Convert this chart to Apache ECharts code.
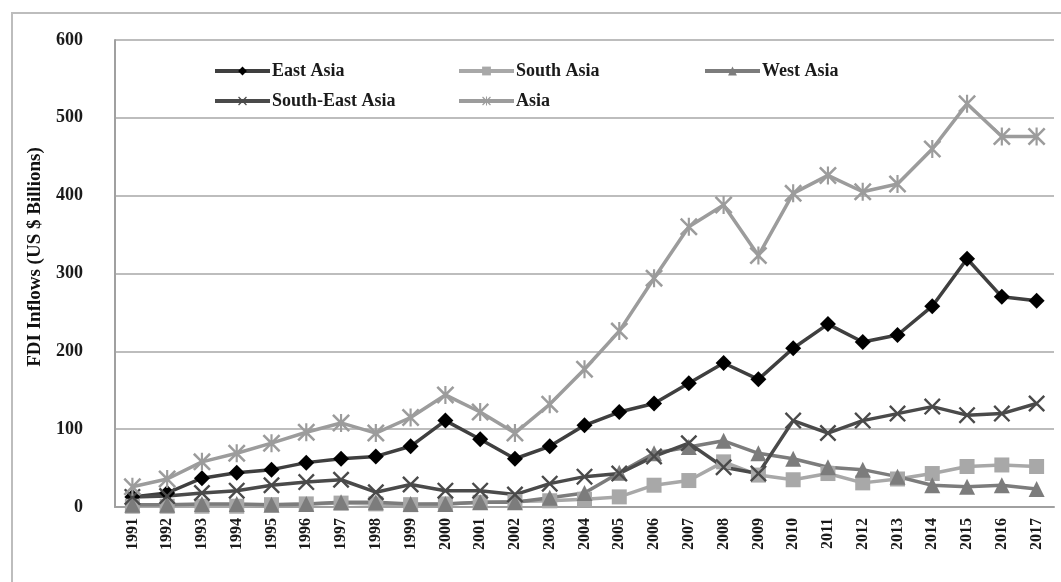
<!DOCTYPE html>
<html>
<head>
<meta charset="utf-8">
<script src="https://cdn.jsdelivr.net/npm/echarts@6/dist/echarts.min.js"></script>
<style>
html, body { margin: 0; padding: 0; background: #fff; }
#box { width: 1061px; height: 582px; }
</style>
</head>
<body>
<div id="box"></div>
<script>
var years = ['1991', '1992', '1993', '1994', '1995', '1996', '1997', '1998', '1999', '2000',
  '2001', '2002', '2003', '2004', '2005', '2006', '2007', '2008', '2009', '2010',
  '2011', '2012', '2013', '2014', '2015', '2016', '2017'];
var eastAsia = [13, 18, 37, 44, 48, 57, 62, 65, 78, 111, 87, 62, 78, 105, 122, 133, 159, 185, 164, 204, 235, 212, 221, 258, 319, 270, 265];
var southAsia = [1, 1, 1, 1, 3, 4, 5, 4, 3, 4, 6, 7, 8, 10, 13, 28, 34, 58, 41, 35, 43, 31, 36, 43, 52, 54, 52];
var westAsia = [3, 3, 4, 4, 3, 4, 6, 6, 4, 4, 6, 6, 12, 18, 44, 69, 77, 85, 69, 62, 51, 48, 39, 28, 26, 28, 23];
var southEastAsia = [13, 14, 18, 21, 28, 32, 35, 19, 29, 21, 21, 16, 30, 39, 43, 65, 82, 51, 43, 111, 95, 111, 120, 129, 118, 120, 133];
var asia = [26, 36, 58, 69, 82, 96, 108, 95, 115, 144, 122, 95, 132, 177, 226, 294, 360, 388, 323, 403, 426, 405, 415, 460, 518, 476, 476];
var yTicks = { min: 0, max: 600, interval: 100 };

var crossPath = 'path://M0,1L1,0L5,4L9,0L10,1L6,5L10,9L9,10L5,6L1,10L0,9L4,5Z';
var starPath = 'path://M0,1L1,0L4.4,3.4L4.4,0L5.6,0L5.6,3.4L9,0L10,1L6,5L10,9L9,10L5.6,6.6L5.6,10L4.4,10L4.4,6.6L1,10L0,9L4,5Z';

var serif = '"Liberation Serif", "DejaVu Serif", serif';

function line (name, data, lineColor, symbol, symbolColor, size) {
  return {
    name: name,
    type: 'line',
    data: data,
    symbol: symbol,
    symbolSize: size,
    showAllSymbol: true,
    lineStyle: { color: lineColor, width: 3.5 },
    itemStyle: { color: symbolColor },
    animation: false
  };
}

// one legend per entry so the columns line up like the original
function legendAt (name, left, top) {
  return {
    left: left,
    top: top,
    itemWidth: 55,
    itemHeight: 11,
    itemGap: 0,
    data: [name],
    lineStyle: { width: 4 },
    textStyle: { fontFamily: serif, fontSize: 18, fontWeight: 'bold', color: '#1a1a1a', padding: [0, 0, 0, -3] }
  };
}

var chart = echarts.init(document.getElementById('box'));
chart.setOption({
  backgroundColor: '#fff',
  animation: false,
  grid: { left: 115, right: 7, top: 40, bottom: 75 },
  graphic: [
    {
      type: 'rect',
      shape: { x: 12, y: 13, width: 1100, height: 620 },
      style: { fill: 'none', stroke: '#bdbdbd', lineWidth: 2 },
      silent: true
    },
    {
      type: 'text',
      x: 35,
      y: 257,
      rotation: Math.PI / 2,
      style: {
        text: 'FDI Inflows (US $ Billions)',
        font: 'bold 19px ' + serif,
        fill: '#111',
        textAlign: 'center',
        textVerticalAlign: 'middle'
      }
    }
  ],
  legend: [
    legendAt('East Asia', 208, 57),
    legendAt('South Asia', 452, 57),
    legendAt('West Asia', 698, 57),
    legendAt('South-East Asia', 208, 87),
    legendAt('Asia', 452, 87)
  ],
  xAxis: {
    type: 'category',
    data: years,
    boundaryGap: true,
    axisLine: { lineStyle: { color: '#a0a0a0', width: 2 } },
    axisTick: { show: false },
    axisLabel: {
      rotate: 90,
      margin: 11,
      fontFamily: serif,
      fontSize: 16,
      fontWeight: 'bold',
      color: '#1a1a1a',
      interval: 0
    }
  },
  yAxis: {
    type: 'value',
    min: yTicks.min,
    max: yTicks.max,
    interval: yTicks.interval,
    axisLine: { show: true, lineStyle: { color: '#a0a0a0', width: 2 } },
    axisTick: { show: false },
    splitLine: { lineStyle: { color: '#bdbdbd', width: 2 } },
    axisLabel: {
      margin: 32,
      fontFamily: serif,
      fontWeight: 'bold',
      fontSize: 18,
      color: '#1a1a1a'
    }
  },
  series: [
    line('East Asia', eastAsia, '#3f3f3f', 'diamond', '#000', 16),
    line('South Asia', southAsia, '#a8a8a8', 'rect', '#a8a8a8', 15),
    line('West Asia', westAsia, '#7c7c7c', 'triangle', '#7c7c7c', 16),
    line('South-East Asia', southEastAsia, '#4a4a4a', crossPath, '#4a4a4a', 17),
    line('Asia', asia, '#9c9c9c', starPath, '#9c9c9c', 18)
  ]
});
</script>
</body>
</html>
